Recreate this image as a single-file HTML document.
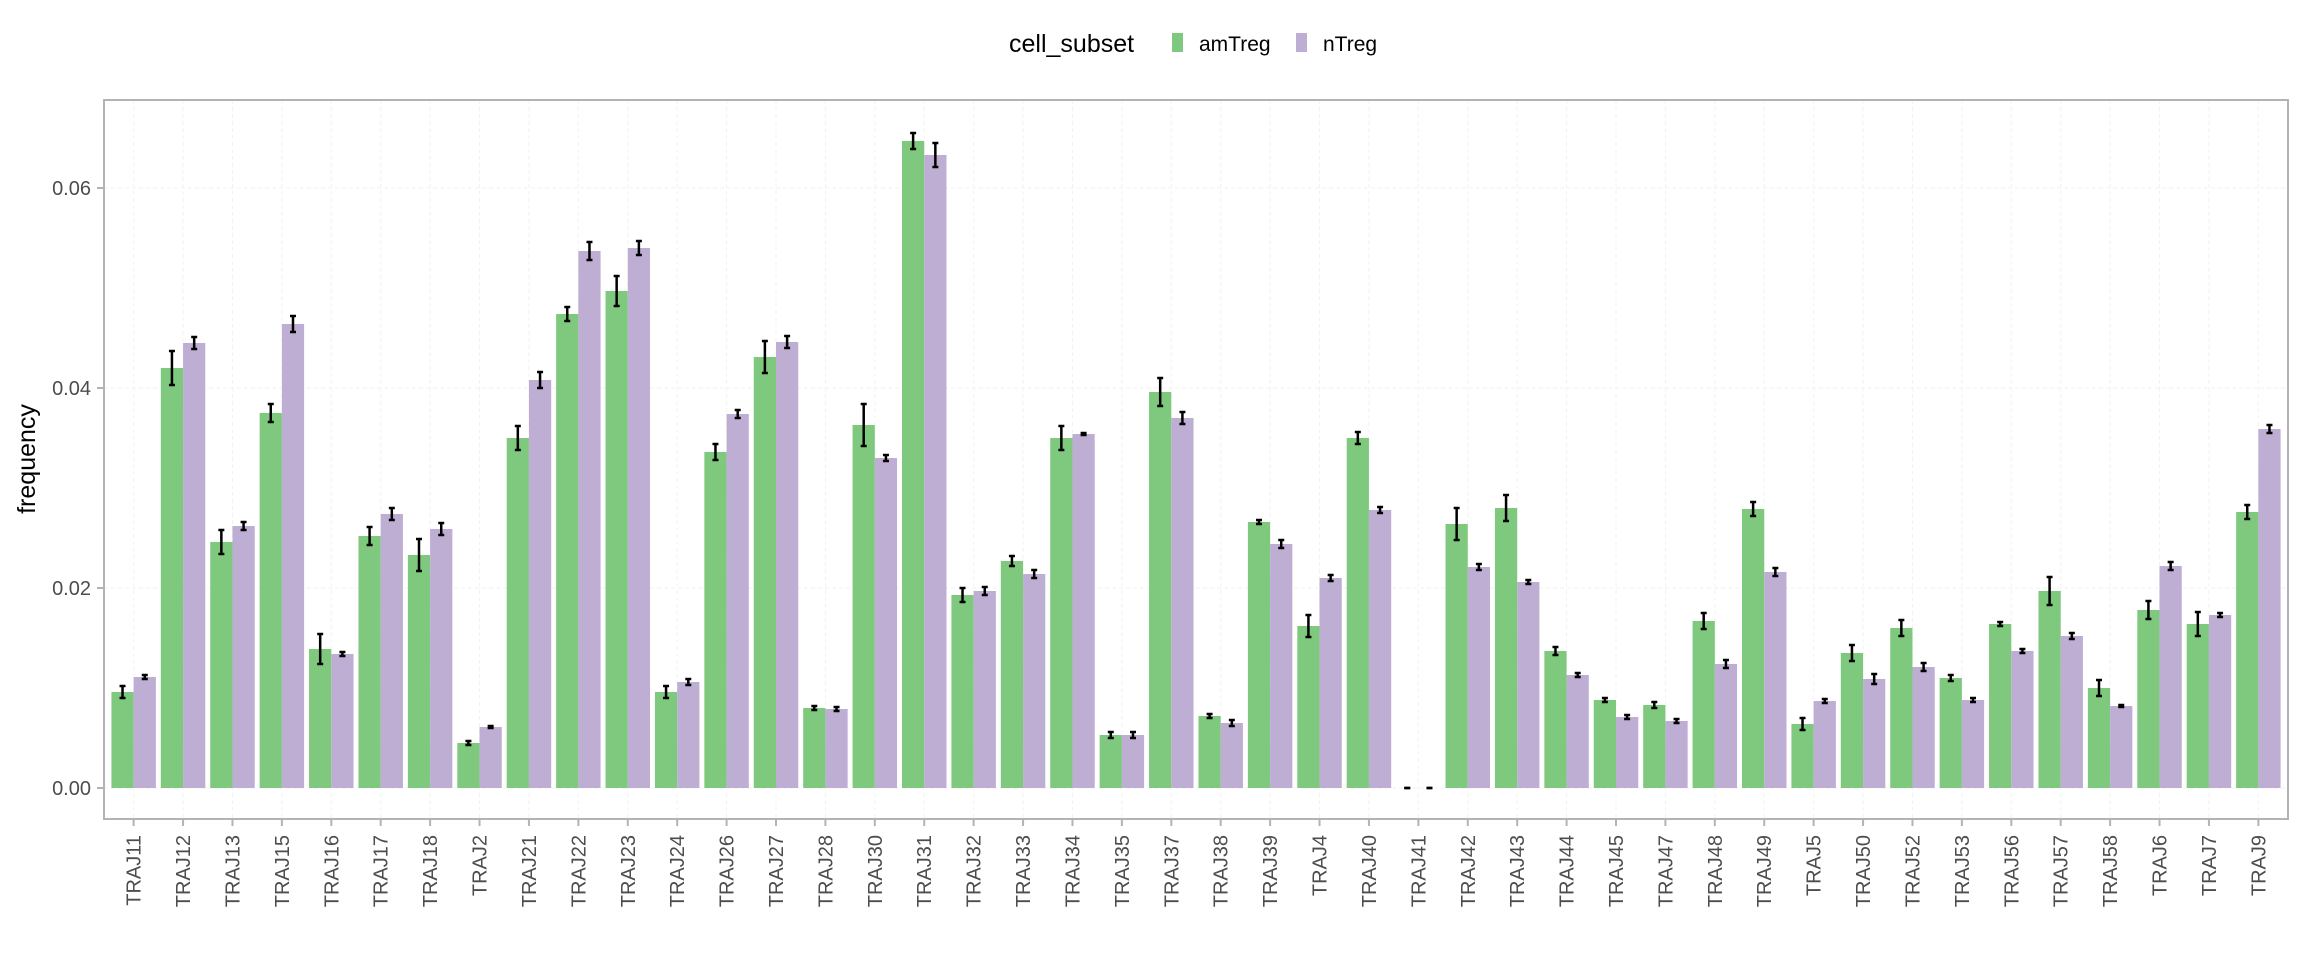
<!DOCTYPE html>
<html><head><meta charset="utf-8">
<style>
body{margin:0;background:#fff;}
svg{display:block;font-family:"Liberation Sans",sans-serif;}
</style></head>
<body>
<svg id="chart" width="2304" height="960" viewBox="0 0 2304 960" xmlns="http://www.w3.org/2000/svg">
  <g>
    <text x="1009" y="52" font-size="25" fill="#000">cell_subset</text>
    <rect x="1172" y="33" width="11" height="19" fill="#7fc97f"/>
    <text x="1199" y="51" font-size="21" fill="#000">amTreg</text>
    <rect x="1296" y="33" width="11" height="19" fill="#beaed4"/>
    <text x="1323" y="51" font-size="21" fill="#000">nTreg</text>
  </g>
  <text transform="translate(35,459) rotate(-90)" text-anchor="middle" font-size="25" fill="#000">frequency</text>
  <g id="grid"></g>
  <g id="bars"></g>
  <g id="errs"></g>
  <rect x="104" y="100" width="2184" height="719" fill="none" stroke="#b3b3b3" stroke-width="2"/>
  <g id="axes"></g>
</svg>
<script>
const categories = ["TRAJ11","TRAJ12","TRAJ13","TRAJ15","TRAJ16","TRAJ17","TRAJ18","TRAJ2","TRAJ21","TRAJ22","TRAJ23","TRAJ24","TRAJ26","TRAJ27","TRAJ28","TRAJ30","TRAJ31","TRAJ32","TRAJ33","TRAJ34","TRAJ35","TRAJ37","TRAJ38","TRAJ39","TRAJ4","TRAJ40","TRAJ41","TRAJ42","TRAJ43","TRAJ44","TRAJ45","TRAJ47","TRAJ48","TRAJ49","TRAJ5","TRAJ50","TRAJ52","TRAJ53","TRAJ56","TRAJ57","TRAJ58","TRAJ6","TRAJ7","TRAJ9"];
const amTreg = [0.0096,0.0420,0.0246,0.0375,0.0139,0.0252,0.0233,0.0045,0.0350,0.0474,0.0497,0.0096,0.0336,0.0431,0.0080,0.0363,0.0647,0.0193,0.0227,0.0350,0.0053,0.0396,0.0072,0.0266,0.0162,0.0350,0,0.0264,0.0280,0.0137,0.0088,0.0083,0.0167,0.0279,0.0064,0.0135,0.0160,0.0110,0.0164,0.0197,0.0100,0.0178,0.0164,0.0276];
const nTreg = [0.0111,0.0445,0.0262,0.0464,0.0134,0.0274,0.0259,0.0061,0.0408,0.0537,0.0540,0.0106,0.0374,0.0446,0.0079,0.0330,0.0633,0.0197,0.0214,0.0354,0.0053,0.0370,0.0065,0.0244,0.0210,0.0278,0,0.0221,0.0206,0.0113,0.0071,0.0067,0.0124,0.0216,0.0087,0.0109,0.0121,0.0088,0.0137,0.0152,0.0082,0.0222,0.0173,0.0359];
const amErr = [0.0006,0.0017,0.0012,0.0009,0.0015,0.0009,0.0016,0.0002,0.0012,0.0007,0.0015,0.0006,0.0008,0.0016,0.0002,0.0021,0.0008,0.0007,0.0005,0.0012,0.0003,0.0014,0.0002,0.0002,0.0011,0.0006,0,0.0016,0.0013,0.0004,0.0002,0.0003,0.0008,0.0007,0.0006,0.0008,0.0008,0.0003,0.0002,0.0014,0.0008,0.0009,0.0012,0.0007];
const nErr = [0.0002,0.0006,0.0004,0.0008,0.0002,0.0006,0.0006,0.0001,0.0008,0.0009,0.0007,0.0003,0.0004,0.0006,0.0002,0.0003,0.0012,0.0004,0.0004,0.0001,0.0003,0.0006,0.0003,0.0004,0.0003,0.0003,0,0.0003,0.0002,0.0002,0.0002,0.0002,0.0004,0.0004,0.0002,0.0005,0.0004,0.0002,0.0002,0.0003,0.0001,0.0004,0.0002,0.0004];
const yTicks = [0, 0.02, 0.04, 0.06];
const yTickLabels = ["0.00","0.02","0.04","0.06"];

const NS = "http://www.w3.org/2000/svg";
const panelL = 104, panelR = 2288, panelT = 100, panelB = 819;
const step = (panelR - panelL) / (categories.length + 0.2);
const xC = i => panelL + step * (0.6 + i);
const yS = v => 788 - v * 10000;
function mk(tag, attrs, parent){
  const el = document.createElementNS(NS, tag);
  for (const k in attrs) el.setAttribute(k, attrs[k]);
  parent.appendChild(el);
  return el;
}
const grid = document.getElementById('grid');
const bars = document.getElementById('bars');
const errs = document.getElementById('errs');
const axes = document.getElementById('axes');

yTicks.forEach((t, i) => {
  const y = yS(t);
  const g = mk('line', {x1: panelL, x2: panelR, y1: y, y2: y, stroke: '#f2f2f2', 'stroke-width': 1, 'stroke-dasharray': '4,3'}, grid);
  
  
  const tk = mk('line', {x1: panelL - 7, x2: panelL, y1: y, y2: y, stroke: '#b3b3b3', 'stroke-width': 2}, axes);
  
  
  const tx = mk('text', {x: panelL - 13, y: y + 7, 'text-anchor': 'end', 'font-size': 20, fill: '#4d4d4d'}, axes);
  tx.textContent = yTickLabels[i];
  
  
});

const bw = step * 0.45;
categories.forEach((c, i) => {
  const x = xC(i);
  const g = mk('line', {x1: x, x2: x, y1: panelT, y2: panelB, stroke: '#f2f2f2', 'stroke-width': 1, 'stroke-dasharray': '4,3'}, grid);
  
  

  const series = [[amTreg[i], amErr[i], '#7fc97f', x - bw, 'bar-amtreg'], [nTreg[i], nErr[i], '#beaed4', x, 'bar-ntreg']];
  series.forEach(s => {
    const v = s[0], e = s[1];
    const r = mk('rect', {x: s[3], y: yS(v), width: bw, height: yS(0) - yS(v), fill: s[2]}, bars);
    
    
    const cx = s[3] + bw / 2;
    const eg = mk('g', {stroke: '#000', 'stroke-width': 2.5}, errs);
    
    
    mk('line', {x1: cx, x2: cx, y1: yS(v + e), y2: yS(v - e)}, eg);
    mk('line', {x1: cx - 3, x2: cx + 3, y1: yS(v + e), y2: yS(v + e)}, eg);
    mk('line', {x1: cx - 3, x2: cx + 3, y1: yS(v - e), y2: yS(v - e)}, eg);
  });

  const tk = mk('line', {x1: x, x2: x, y1: panelB, y2: panelB + 7, stroke: '#b3b3b3', 'stroke-width': 2}, axes);
  
  
  const tx = mk('text', {transform: `translate(${x + 7},835) rotate(-90)`, 'text-anchor': 'end', 'font-size': 20, fill: '#4d4d4d'}, axes);
  tx.textContent = c;
  
  
});
</script>
</body></html>
